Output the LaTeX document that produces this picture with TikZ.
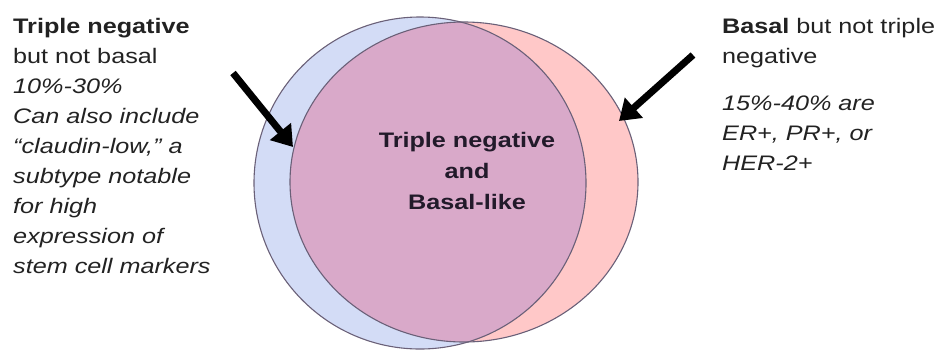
\documentclass[tikz,border=0pt]{standalone}
\usepackage{fontspec}
\setmainfont{Liberation Sans}[FakeStretch=1.2]
\usetikzlibrary{arrows.meta}
\definecolor{bluef}{HTML}{D3DCF6}
\definecolor{redf}{HTML}{FFC8C8}
\definecolor{bothf}{HTML}{D9A9C9}
\definecolor{edgec}{HTML}{6A6078}
\definecolor{txtc}{HTML}{222222}
\definecolor{midc}{HTML}{221A2A}
\begin{document}
\begin{tikzpicture}[x=1pt,y=-1pt,
  txt/.style={inner sep=0pt, align=left, font=\fontsize{21}{30}\selectfont, text=txtc},
  ctxt/.style={inner sep=0pt, align=center, font=\bfseries\fontsize{21}{31}\selectfont, text=midc},
  pointer/.style={line width=7pt, black, -{Triangle[length=20pt,width=26pt]}},
  rim/.style={draw=edgec, line width=1.1pt}]
\useasboundingbox (0,0) rectangle (939,354);
% sets
\fill[bluef] (420,183) circle (166);
\fill[redf] (464,182) ellipse [x radius=174, y radius=160];
\begin{scope}
  \clip (420,183) circle (166);
  \fill[bothf] (464,182) ellipse [x radius=174, y radius=160];
\end{scope}
\draw[rim] (420,183) circle (166);
\draw[rim] (464,182) ellipse [x radius=174, y radius=160];
% texts
\node[txt, anchor=north west] (left) at (13,17.7)
  {\textbf{Triple negative}\\but not basal\\\textit{10\%-30\%}\\\textit{Can also include}\\\textit{“claudin-low,” a}\\\textit{subtype notable}\\\textit{for high}\\\textit{expression of}\\\textit{stem cell markers}};
\node[txt, anchor=north west] (right) at (722,17.7)
  {\textbf{Basal} but not triple\\negative\\[17pt]\textit{15\%-40\% are}\\\textit{ER+, PR+, or}\\\textit{HER-2+}};
\node[ctxt, anchor=north] (mid) at (467,131.7) {Triple negative\\and\\Basal-like};
% arrows
\coordinate (la) at (233,73);
\coordinate (lb) at (293,147);
\coordinate (ra) at (693,55);
\coordinate (rb) at (619,121);
\draw[pointer] (la) -- (lb);
\draw[pointer] (ra) -- (rb);
\end{tikzpicture}
\end{document}
